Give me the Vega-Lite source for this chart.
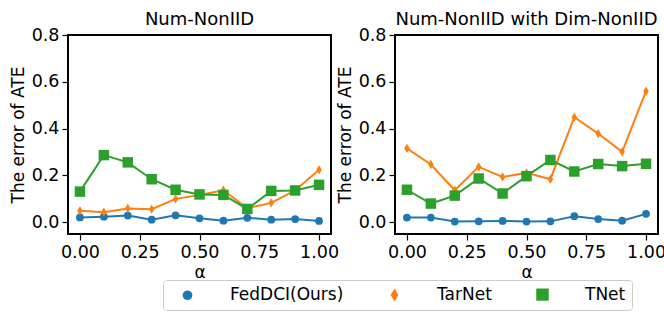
{
  "$schema": "https://vega.github.io/schema/vega-lite/v6.json",
  "padding": {"left": 8, "top": 10, "right": 0, "bottom": 0},
  "background": "white",
  "config": {
    "font": "DejaVu Sans",
    "view": {"stroke": "black", "strokeWidth": 2},
    "axis": {"grid": false, "domain": false, "tickColor": "black", "tickSize": 6, "tickWidth": 1.2, "labelFont": "DejaVu Sans", "labelFontSize": 17.5, "labelColor": "black", "labelPadding": 3, "titleFont": "DejaVu Sans", "titleFontSize": 17, "titleFontWeight": "normal", "titleColor": "black", "titlePadding": 4},
    "title": {"font": "DejaVu Sans", "fontSize": 18, "fontWeight": "normal", "color": "black", "offset": -3}
  },
  "data": {"values": [
    {"panel": "A", "method": "FedDCI(Ours)", "alpha": 0.0, "error": 0.021},
    {"panel": "A", "method": "FedDCI(Ours)", "alpha": 0.1, "error": 0.024},
    {"panel": "A", "method": "FedDCI(Ours)", "alpha": 0.2, "error": 0.029},
    {"panel": "A", "method": "FedDCI(Ours)", "alpha": 0.3, "error": 0.011},
    {"panel": "A", "method": "FedDCI(Ours)", "alpha": 0.4, "error": 0.030},
    {"panel": "A", "method": "FedDCI(Ours)", "alpha": 0.5, "error": 0.017},
    {"panel": "A", "method": "FedDCI(Ours)", "alpha": 0.6, "error": 0.007},
    {"panel": "A", "method": "FedDCI(Ours)", "alpha": 0.7, "error": 0.019},
    {"panel": "A", "method": "FedDCI(Ours)", "alpha": 0.8, "error": 0.011},
    {"panel": "A", "method": "FedDCI(Ours)", "alpha": 0.9, "error": 0.014},
    {"panel": "A", "method": "FedDCI(Ours)", "alpha": 1.0, "error": 0.006},
    {"panel": "A", "method": "TarNet", "alpha": 0.0, "error": 0.049},
    {"panel": "A", "method": "TarNet", "alpha": 0.1, "error": 0.043},
    {"panel": "A", "method": "TarNet", "alpha": 0.2, "error": 0.059},
    {"panel": "A", "method": "TarNet", "alpha": 0.3, "error": 0.056},
    {"panel": "A", "method": "TarNet", "alpha": 0.4, "error": 0.100},
    {"panel": "A", "method": "TarNet", "alpha": 0.5, "error": 0.117},
    {"panel": "A", "method": "TarNet", "alpha": 0.6, "error": 0.137},
    {"panel": "A", "method": "TarNet", "alpha": 0.7, "error": 0.060},
    {"panel": "A", "method": "TarNet", "alpha": 0.8, "error": 0.083},
    {"panel": "A", "method": "TarNet", "alpha": 0.9, "error": 0.136},
    {"panel": "A", "method": "TarNet", "alpha": 1.0, "error": 0.224},
    {"panel": "A", "method": "TNet", "alpha": 0.0, "error": 0.131},
    {"panel": "A", "method": "TNet", "alpha": 0.1, "error": 0.287},
    {"panel": "A", "method": "TNet", "alpha": 0.2, "error": 0.256},
    {"panel": "A", "method": "TNet", "alpha": 0.3, "error": 0.184},
    {"panel": "A", "method": "TNet", "alpha": 0.4, "error": 0.139},
    {"panel": "A", "method": "TNet", "alpha": 0.5, "error": 0.119},
    {"panel": "A", "method": "TNet", "alpha": 0.6, "error": 0.117},
    {"panel": "A", "method": "TNet", "alpha": 0.7, "error": 0.057},
    {"panel": "A", "method": "TNet", "alpha": 0.8, "error": 0.134},
    {"panel": "A", "method": "TNet", "alpha": 0.9, "error": 0.136},
    {"panel": "A", "method": "TNet", "alpha": 1.0, "error": 0.160},
    {"panel": "B", "method": "FedDCI(Ours)", "alpha": 0.0, "error": 0.020},
    {"panel": "B", "method": "FedDCI(Ours)", "alpha": 0.1, "error": 0.020},
    {"panel": "B", "method": "FedDCI(Ours)", "alpha": 0.2, "error": 0.003},
    {"panel": "B", "method": "FedDCI(Ours)", "alpha": 0.3, "error": 0.004},
    {"panel": "B", "method": "FedDCI(Ours)", "alpha": 0.4, "error": 0.006},
    {"panel": "B", "method": "FedDCI(Ours)", "alpha": 0.5, "error": 0.003},
    {"panel": "B", "method": "FedDCI(Ours)", "alpha": 0.6, "error": 0.004},
    {"panel": "B", "method": "FedDCI(Ours)", "alpha": 0.7, "error": 0.026},
    {"panel": "B", "method": "FedDCI(Ours)", "alpha": 0.8, "error": 0.014},
    {"panel": "B", "method": "FedDCI(Ours)", "alpha": 0.9, "error": 0.007},
    {"panel": "B", "method": "FedDCI(Ours)", "alpha": 1.0, "error": 0.036},
    {"panel": "B", "method": "TarNet", "alpha": 0.0, "error": 0.316},
    {"panel": "B", "method": "TarNet", "alpha": 0.1, "error": 0.247},
    {"panel": "B", "method": "TarNet", "alpha": 0.2, "error": 0.137},
    {"panel": "B", "method": "TarNet", "alpha": 0.3, "error": 0.237},
    {"panel": "B", "method": "TarNet", "alpha": 0.4, "error": 0.194},
    {"panel": "B", "method": "TarNet", "alpha": 0.5, "error": 0.211},
    {"panel": "B", "method": "TarNet", "alpha": 0.6, "error": 0.184},
    {"panel": "B", "method": "TarNet", "alpha": 0.7, "error": 0.449},
    {"panel": "B", "method": "TarNet", "alpha": 0.8, "error": 0.379},
    {"panel": "B", "method": "TarNet", "alpha": 0.9, "error": 0.301},
    {"panel": "B", "method": "TarNet", "alpha": 1.0, "error": 0.560},
    {"panel": "B", "method": "TNet", "alpha": 0.0, "error": 0.139},
    {"panel": "B", "method": "TNet", "alpha": 0.1, "error": 0.080},
    {"panel": "B", "method": "TNet", "alpha": 0.2, "error": 0.114},
    {"panel": "B", "method": "TNet", "alpha": 0.3, "error": 0.187},
    {"panel": "B", "method": "TNet", "alpha": 0.4, "error": 0.123},
    {"panel": "B", "method": "TNet", "alpha": 0.5, "error": 0.197},
    {"panel": "B", "method": "TNet", "alpha": 0.6, "error": 0.266},
    {"panel": "B", "method": "TNet", "alpha": 0.7, "error": 0.217},
    {"panel": "B", "method": "TNet", "alpha": 0.8, "error": 0.249},
    {"panel": "B", "method": "TNet", "alpha": 0.9, "error": 0.240},
    {"panel": "B", "method": "TNet", "alpha": 1.0, "error": 0.250}
  ]},
  "transform": [{"calculate": "datum.method", "as": "series"}],
  "spacing": -5,
  "resolve": {"scale": {"color": "shared", "shape": "shared", "size": "shared"}},
  "hconcat": [
    {
      "width": 263, "height": 199,
      "title": "Num-NonIID",
      "transform": [{"filter": "datum.panel === 'A'"}],
      "encoding": {
        "x": {"field": "alpha", "type": "quantitative", "scale": {"domain": [-0.05, 1.05], "nice": false, "zero": false}, "axis": {"values": [0, 0.25, 0.5, 0.75, 1], "format": ".2f", "title": "α"}},
        "y": {"field": "error", "type": "quantitative", "scale": {"domain": [-0.05, 0.8], "nice": false, "zero": false}, "axis": {"values": [0, 0.2, 0.4, 0.6, 0.8], "format": ".1f", "title": "The error of ATE"}}
      },
      "layer": [
        {"mark": {"type": "line", "strokeWidth": 2},
         "encoding": {"color": {"field": "method", "type": "nominal", "scale": {"domain": ["FedDCI(Ours)", "TarNet", "TNet"], "range": ["#1f77b4", "#ff7f0e", "#2ca02c"]},
             "legend": {"title": null, "orient": "none", "legendX": 95, "legendY": 245, "direction": "horizontal", "columns": 3, "labelFontSize": 17, "labelFont": "DejaVu Sans", "labelColor": "black", "strokeColor": "#cccccc", "fillColor": "white", "cornerRadius": 3, "padding": 6, "symbolOffset": 10, "labelOffset": 34, "columnPadding": 32,
               "encode": {"symbols": {"update": {
                 "shape": {"signal": "datum.value === 'FedDCI(Ours)' ? 'M-2.5,0H-0.5M0.5,0H2.5M-0.5,0A0.5,0.5 0 1,0 0.5,0A0.5,0.5 0 1,0 -0.5,0Z' : datum.value === 'TarNet' ? 'M-2.5,0H-0.35M0.35,0H2.5M0,-0.7L0.35,0L0,0.7L-0.35,0Z' : 'M-2.5,0H-0.55M0.55,0H2.5M-0.55,-0.55H0.55V0.55H-0.55Z'"},
                 "size": {"value": 196},
                 "fill": {"signal": "scale('color', datum.value)"},
                 "stroke": {"signal": "scale('color', datum.value)"},
                 "strokeWidth": {"value": 2},
                 "opacity": {"value": 1}
               }}}}}}},
        {"mark": {"type": "point", "filled": true, "opacity": 1},
         "encoding": {
           "color": {"field": "method", "type": "nominal"},
           "shape": {"field": "series", "type": "nominal", "scale": {"domain": ["FedDCI(Ours)", "TarNet", "TNet"], "range": ["circle", "M0,-1L0.6,0L0,1L-0.6,0Z", "square"]}, "legend": null},
           "size": {"field": "series", "type": "nominal", "scale": {"domain": ["FedDCI(Ours)", "TarNet", "TNet"], "range": [60, 110, 75]}, "legend": null}
         }}
      ]
    },
    {
      "width": 263, "height": 199,
      "title": "Num-NonIID with Dim-NonIID",
      "transform": [{"filter": "datum.panel === 'B'"}],
      "encoding": {
        "x": {"field": "alpha", "type": "quantitative", "scale": {"domain": [-0.05, 1.05], "nice": false, "zero": false}, "axis": {"values": [0, 0.25, 0.5, 0.75, 1], "format": ".2f", "title": "α"}},
        "y": {"field": "error", "type": "quantitative", "scale": {"domain": [-0.05, 0.8], "nice": false, "zero": false}, "axis": {"values": [0, 0.2, 0.4, 0.6, 0.8], "format": ".1f", "title": "The error of ATE"}}
      },
      "layer": [
        {"mark": {"type": "line", "strokeWidth": 2},
         "encoding": {"color": {"field": "method", "type": "nominal"}}},
        {"mark": {"type": "point", "filled": true, "opacity": 1},
         "encoding": {
           "color": {"field": "method", "type": "nominal"},
           "shape": {"field": "series", "type": "nominal", "legend": null},
           "size": {"field": "series", "type": "nominal", "legend": null}
         }}
      ]
    }
  ]
}
